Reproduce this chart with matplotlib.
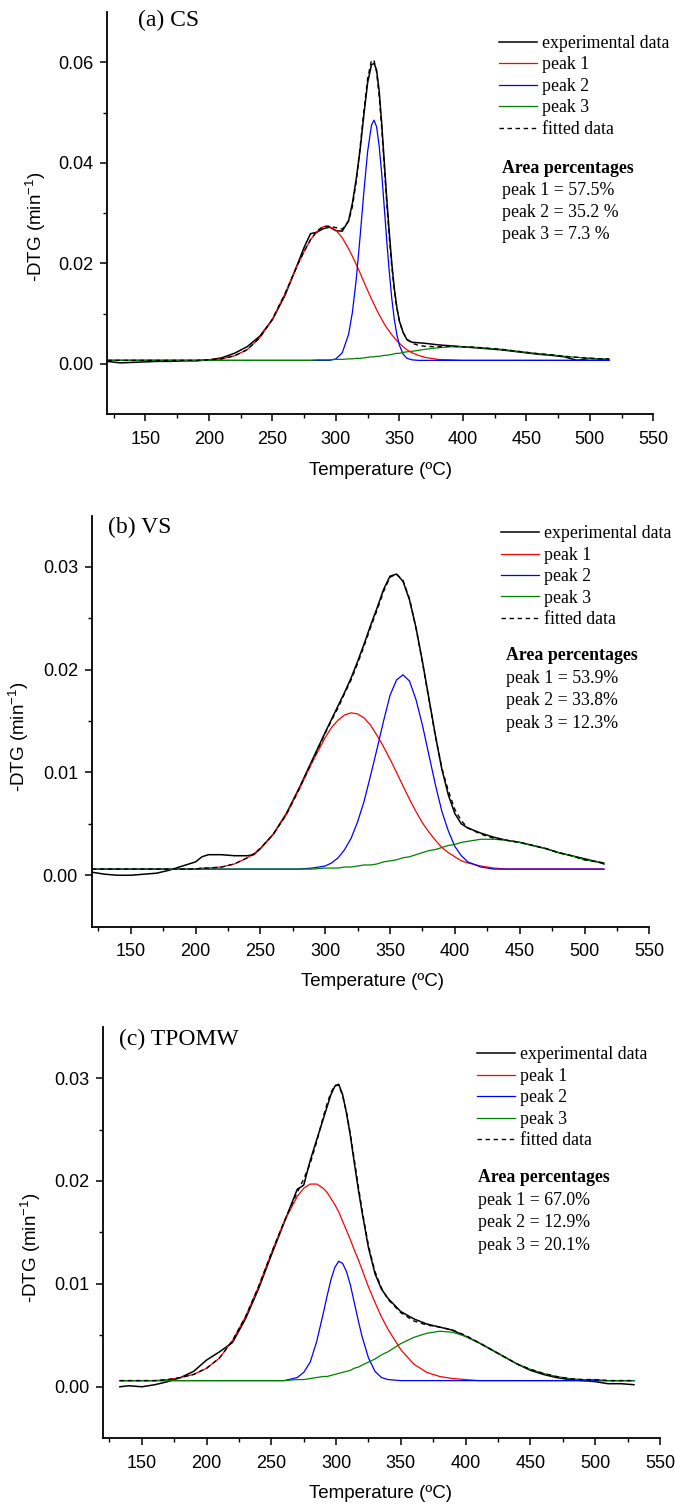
import matplotlib

matplotlib.use("Agg")
import matplotlib.pyplot as plt

# ---- data (temperature in ºC, -DTG in 1/min) ----

T_CS = [120, 130, 140, 150, 160, 170, 180, 190, 200, 210, 220, 230, 240, 250, 260, 270,
        275, 280, 285, 290, 295, 300, 305, 310, 313, 316, 319, 322, 325, 328,
        330, 332, 334, 336, 338, 340, 342, 344, 346, 348, 350, 353, 356, 360, 365, 370,
        380, 390, 400, 410, 420, 430, 440, 450, 460, 470, 480, 490, 500, 510, 515]
EXP_CS = [0.0005, 0.0002, 0.0003, 0.0004, 0.0005, 0.0005, 0.0006, 0.0006, 0.0008, 0.0012, 0.0021, 0.0034, 0.0055, 0.0088, 0.0137, 0.0200,
          0.0232, 0.0259, 0.0262, 0.0269, 0.0272, 0.0265, 0.0264, 0.0285, 0.0320, 0.0368, 0.0425, 0.0495, 0.0560, 0.0595,
          0.0598, 0.0585, 0.0545, 0.0480, 0.0405, 0.0330, 0.0262, 0.0200, 0.0150, 0.0112, 0.0085, 0.0062, 0.0048, 0.0043, 0.0042, 0.0041,
          0.0038, 0.0036, 0.0034, 0.0032, 0.0030, 0.0028, 0.0025, 0.0022, 0.0019, 0.0017, 0.0014, 0.0007, 0.0011, 0.0009, 0.0008]
PEAK1_CS = [0.0007, 0.0007, 0.0007, 0.0007, 0.0007, 0.0007, 0.0007, 0.0007, 0.0008, 0.0010, 0.0016, 0.0028, 0.0052, 0.0089, 0.0140, 0.0198,
            0.0224, 0.0247, 0.0263, 0.0273, 0.0273, 0.0266, 0.0251, 0.0229, 0.0214, 0.0198, 0.0181, 0.0163, 0.0146, 0.0129,
            0.0119, 0.0108, 0.0098, 0.0089, 0.0080, 0.0072, 0.0065, 0.0058, 0.0052, 0.0046, 0.0041, 0.0034, 0.0028, 0.0022, 0.0017, 0.0013,
            0.0009, 0.0008, 0.0007, 0.0007, 0.0007, 0.0007, 0.0007, 0.0007, 0.0007, 0.0007, 0.0007, 0.0007, 0.0007, 0.0007, 0.0007]
PEAK2_CS = [0.0007, 0.0007, 0.0007, 0.0007, 0.0007, 0.0007, 0.0007, 0.0007, 0.0007, 0.0007, 0.0007, 0.0007, 0.0007, 0.0007, 0.0007, 0.0007,
            0.0007, 0.0007, 0.0007, 0.0007, 0.0007, 0.0010, 0.0022, 0.0059, 0.0103, 0.0168, 0.0252, 0.0342, 0.0423, 0.0475,
            0.0485, 0.0472, 0.0435, 0.0380, 0.0314, 0.0246, 0.0184, 0.0130, 0.0088, 0.0058, 0.0037, 0.0019, 0.0011, 0.0008, 0.0007, 0.0007,
            0.0007, 0.0007, 0.0007, 0.0007, 0.0007, 0.0007, 0.0007, 0.0007, 0.0007, 0.0007, 0.0007, 0.0007, 0.0007, 0.0007, 0.0007]
PEAK3_CS = [0.0007, 0.0007, 0.0007, 0.0007, 0.0007, 0.0007, 0.0007, 0.0007, 0.0007, 0.0007, 0.0007, 0.0007, 0.0007, 0.0007, 0.0007, 0.0007,
            0.0007, 0.0007, 0.0008, 0.0008, 0.0008, 0.0009, 0.0009, 0.0010, 0.0010, 0.0011, 0.0011, 0.0012, 0.0013, 0.0014,
            0.0014, 0.0015, 0.0015, 0.0016, 0.0017, 0.0017, 0.0018, 0.0019, 0.0020, 0.0021, 0.0021, 0.0023, 0.0024, 0.0025, 0.0027, 0.0029,
            0.0032, 0.0034, 0.0034, 0.0033, 0.0031, 0.0029, 0.0026, 0.0023, 0.0020, 0.0018, 0.0015, 0.0013, 0.0011, 0.0010, 0.0010]
FIT_CS = [0.0007, 0.0007, 0.0007, 0.0007, 0.0007, 0.0007, 0.0007, 0.0007, 0.0008, 0.0010, 0.0016, 0.0028, 0.0052, 0.0089, 0.0140, 0.0198,
          0.0224, 0.0247, 0.0264, 0.0274, 0.0274, 0.0271, 0.0268, 0.0284, 0.0313, 0.0363, 0.0430, 0.0503, 0.0568, 0.0604,
          0.0604, 0.0581, 0.0534, 0.0471, 0.0397, 0.0321, 0.0253, 0.0193, 0.0146, 0.0111, 0.0085, 0.0062, 0.0049, 0.0041, 0.0037, 0.0035,
          0.0034, 0.0035, 0.0034, 0.0033, 0.0031, 0.0029, 0.0026, 0.0023, 0.0020, 0.0018, 0.0015, 0.0013, 0.0011, 0.0010, 0.0010]
AREA_CS = ["57.5%", "35.2 %", "7.3 %"]

T_VS = [120, 130, 140, 150, 160, 170, 180, 190, 200, 205, 210, 220, 230, 240, 245, 250,
        260, 270, 280, 290, 300, 305, 310, 315, 320, 325, 330, 335, 340, 345, 350, 355,
        360, 365, 370, 375, 380, 385, 390, 395, 400, 405, 410, 420, 430, 440, 450, 460,
        470, 480, 490, 500, 510, 515]
EXP_VS = [0.0003, 0.0001, 0.0000, 0.0000, 0.0001, 0.0002, 0.0005, 0.0009, 0.0013, 0.0018, 0.0020, 0.0020, 0.0019, 0.0019, 0.0020, 0.0026,
          0.0040, 0.0060, 0.0085, 0.0112, 0.0139, 0.0152, 0.0165, 0.0178, 0.0192, 0.0208, 0.0225, 0.0243, 0.0260, 0.0278, 0.0291, 0.0293,
          0.0286, 0.0268, 0.0241, 0.0208, 0.0172, 0.0136, 0.0103, 0.0078, 0.0060, 0.0050, 0.0046, 0.0041, 0.0037, 0.0034, 0.0032, 0.0029,
          0.0026, 0.0022, 0.0019, 0.0016, 0.0013, 0.0011]
PEAK1_VS = [0.0006, 0.0006, 0.0006, 0.0006, 0.0006, 0.0006, 0.0006, 0.0006, 0.0006, 0.0007, 0.0007, 0.0008, 0.0011, 0.0017, 0.0021, 0.0026,
            0.0040, 0.0059, 0.0084, 0.0110, 0.0134, 0.0144, 0.0151, 0.0156, 0.0158, 0.0157, 0.0153, 0.0146, 0.0136, 0.0125, 0.0113, 0.0100,
            0.0087, 0.0074, 0.0062, 0.0051, 0.0042, 0.0034, 0.0027, 0.0022, 0.0018, 0.0014, 0.0012, 0.0009, 0.0007, 0.0006, 0.0006, 0.0006,
            0.0006, 0.0006, 0.0006, 0.0006, 0.0006, 0.0006]
PEAK2_VS = [0.0006, 0.0006, 0.0006, 0.0006, 0.0006, 0.0006, 0.0006, 0.0006, 0.0006, 0.0006, 0.0006, 0.0006, 0.0006, 0.0006, 0.0006, 0.0006,
            0.0006, 0.0006, 0.0006, 0.0007, 0.0009, 0.0012, 0.0017, 0.0025, 0.0036, 0.0052, 0.0072, 0.0097, 0.0123, 0.0150, 0.0175, 0.0190,
            0.0195, 0.0189, 0.0171, 0.0146, 0.0117, 0.0088, 0.0062, 0.0043, 0.0028, 0.0019, 0.0013, 0.0008, 0.0006, 0.0006, 0.0006, 0.0006,
            0.0006, 0.0006, 0.0006, 0.0006, 0.0006, 0.0006]
PEAK3_VS = [0.0006, 0.0006, 0.0006, 0.0006, 0.0006, 0.0006, 0.0006, 0.0006, 0.0006, 0.0006, 0.0006, 0.0006, 0.0006, 0.0006, 0.0006, 0.0006,
            0.0006, 0.0006, 0.0006, 0.0006, 0.0007, 0.0007, 0.0007, 0.0008, 0.0008, 0.0009, 0.0010, 0.0010, 0.0011, 0.0013, 0.0014, 0.0015,
            0.0017, 0.0018, 0.0020, 0.0022, 0.0024, 0.0025, 0.0027, 0.0029, 0.0030, 0.0032, 0.0033, 0.0035, 0.0035, 0.0034, 0.0032, 0.0029,
            0.0026, 0.0022, 0.0019, 0.0015, 0.0013, 0.0012]
FIT_VS = [0.0006, 0.0006, 0.0006, 0.0006, 0.0006, 0.0006, 0.0006, 0.0006, 0.0006, 0.0007, 0.0007, 0.0008, 0.0011, 0.0017, 0.0021, 0.0026,
          0.0040, 0.0059, 0.0084, 0.0111, 0.0138, 0.0151, 0.0163, 0.0177, 0.0190, 0.0206, 0.0223, 0.0241, 0.0258, 0.0276, 0.0290, 0.0293,
          0.0287, 0.0269, 0.0241, 0.0207, 0.0171, 0.0135, 0.0104, 0.0082, 0.0064, 0.0053, 0.0046, 0.0040, 0.0036, 0.0034, 0.0032, 0.0029,
          0.0026, 0.0022, 0.0019, 0.0015, 0.0013, 0.0012]
AREA_VS = ["53.9%", "33.8%", "12.3%"]

T_TPOMW = [133, 140, 150, 160, 170, 180, 190, 200, 210, 220, 230, 240, 250, 260, 270,
           275, 280, 285, 290, 293, 296, 299, 302, 305, 308, 311, 314, 317, 320,
           325, 330, 335, 340, 350, 360, 370, 380, 390, 400, 410, 420, 430, 440,
           450, 460, 470, 480, 490, 500, 510, 520, 530]
EXP_TPOMW = [0.0000, 0.0001, 0.0000, 0.0002, 0.0005, 0.0009, 0.0015, 0.0026, 0.0034, 0.0043, 0.0066, 0.0095, 0.0128, 0.0160, 0.0192,
             0.0196, 0.0220, 0.0240, 0.0260, 0.0272, 0.0284, 0.0292, 0.0294, 0.0284, 0.0266, 0.0244, 0.0218, 0.0193, 0.0170,
             0.0135, 0.0110, 0.0095, 0.0086, 0.0073, 0.0066, 0.0061, 0.0058, 0.0055, 0.0049, 0.0043, 0.0036, 0.0029, 0.0022,
             0.0016, 0.0012, 0.0009, 0.0007, 0.0006, 0.0005, 0.0003, 0.0003, 0.0002]
PEAK1_TPOMW = [0.0006, 0.0006, 0.0006, 0.0006, 0.0007, 0.0009, 0.0012, 0.0018, 0.0028, 0.0045, 0.0068, 0.0097, 0.0130, 0.0161, 0.0185,
               0.0193, 0.0197, 0.0197, 0.0193, 0.0189, 0.0183, 0.0177, 0.0170, 0.0161, 0.0152, 0.0143, 0.0133, 0.0124, 0.0114,
               0.0097, 0.0082, 0.0068, 0.0056, 0.0036, 0.0022, 0.0014, 0.0010, 0.0008, 0.0007, 0.0006, 0.0006, 0.0006, 0.0006,
               0.0006, 0.0006, 0.0006, 0.0006, 0.0006, 0.0006, 0.0006, 0.0006, 0.0006]
PEAK2_TPOMW = [0.0006, 0.0006, 0.0006, 0.0006, 0.0006, 0.0006, 0.0006, 0.0006, 0.0006, 0.0006, 0.0006, 0.0006, 0.0006, 0.0006, 0.0009,
               0.0014, 0.0024, 0.0044, 0.0071, 0.0088, 0.0104, 0.0116, 0.0122, 0.0120, 0.0112, 0.0099, 0.0082, 0.0065, 0.0049,
               0.0028, 0.0015, 0.0009, 0.0007, 0.0006, 0.0006, 0.0006, 0.0006, 0.0006, 0.0006, 0.0006, 0.0006, 0.0006, 0.0006,
               0.0006, 0.0006, 0.0006, 0.0006, 0.0006, 0.0006, 0.0006, 0.0006, 0.0006]
PEAK3_TPOMW = [0.0006, 0.0006, 0.0006, 0.0006, 0.0006, 0.0006, 0.0006, 0.0006, 0.0006, 0.0006, 0.0006, 0.0006, 0.0006, 0.0006, 0.0007,
               0.0007, 0.0008, 0.0009, 0.0010, 0.0010, 0.0011, 0.0012, 0.0013, 0.0014, 0.0015, 0.0016, 0.0018, 0.0019, 0.0021,
               0.0024, 0.0027, 0.0031, 0.0034, 0.0042, 0.0048, 0.0052, 0.0054, 0.0053, 0.0049, 0.0043, 0.0036, 0.0029, 0.0022,
               0.0017, 0.0013, 0.0010, 0.0008, 0.0007, 0.0007, 0.0006, 0.0006, 0.0006]
FIT_TPOMW = [0.0006, 0.0006, 0.0006, 0.0006, 0.0007, 0.0009, 0.0012, 0.0018, 0.0028, 0.0045, 0.0068, 0.0097, 0.0130, 0.0161, 0.0189,
             0.0202, 0.0217, 0.0238, 0.0262, 0.0275, 0.0286, 0.0293, 0.0293, 0.0283, 0.0267, 0.0246, 0.0221, 0.0196, 0.0172,
             0.0137, 0.0112, 0.0096, 0.0085, 0.0072, 0.0064, 0.0060, 0.0058, 0.0055, 0.0050, 0.0043, 0.0036, 0.0029, 0.0022,
             0.0017, 0.0013, 0.0010, 0.0008, 0.0007, 0.0007, 0.0006, 0.0006, 0.0006]
AREA_TPOMW = ["67.0%", "12.9%", "20.1%"]

SERIES_LABELS = ["experimental data", "peak 1", "peak 2", "peak 3", "fitted data"]

# ---- layout / style ----

SANS = ["Liberation Sans", "DejaVu Sans"]
SERIF = ["Liberation Serif", "DejaVu Serif"]
PEAK_COLORS = ["#FF0000", "#0000FF", "#008000"]
TEXT_SIZE = 12.8

PANELS = [
    {
        "tag": "(a) CS",
        "data": (T_CS, EXP_CS, PEAK1_CS, PEAK2_CS, PEAK3_CS, FIT_CS),
        "areas": AREA_CS,
        "rect": [0.159, 0.725, 0.809, 0.267],
        "ylim": (-0.01, 0.07),
        "yticks": [0.0, 0.02, 0.04, 0.06],
        "yminor": [0.01, 0.03, 0.05],
        "legend_xy": (0.717, 0.943),
        "area_x": 0.723,
        "area_y": [0.611, 0.556, 0.501, 0.447],
        "tag_xy": (0.057, 0.98),
        "xlabel_xy": (0.501, -0.118),
        "ylabel_xy": (-0.109, 0.465),
    },
    {
        "tag": "(b) VS",
        "data": (T_VS, EXP_VS, PEAK1_VS, PEAK2_VS, PEAK3_VS, FIT_VS),
        "areas": AREA_VS,
        "rect": [0.136, 0.3847, 0.826, 0.273],
        "ylim": (-0.005, 0.035),
        "yticks": [0.0, 0.01, 0.02, 0.03],
        "yminor": [0.005, 0.015, 0.025],
        "legend_xy": (0.734, 0.976),
        "area_x": 0.742,
        "area_y": [0.660, 0.603, 0.5496, 0.4937],
        "tag_xy": (0.0296, 0.972),
        "xlabel_xy": (0.503, -0.112),
        "ylabel_xy": (-0.1086, 0.4615),
    },
    {
        "tag": "(c) TPOMW",
        "data": (T_TPOMW, EXP_TPOMW, PEAK1_TPOMW, PEAK2_TPOMW, PEAK3_TPOMW, FIT_TPOMW),
        "areas": AREA_TPOMW,
        "rect": [0.1526, 0.045, 0.825, 0.2733],
        "ylim": (-0.005, 0.035),
        "yticks": [0.0, 0.01, 0.02, 0.03],
        "yminor": [0.005, 0.015, 0.025],
        "legend_xy": (0.671, 0.952),
        "area_x": 0.673,
        "area_y": [0.634, 0.5774, 0.5239, 0.4688],
        "tag_xy": (0.0294, 0.968),
        "xlabel_xy": (0.499, -0.114),
        "ylabel_xy": (-0.107, 0.4623),
    },
]


def draw_panel(fig, panel):
    temp, exp, p1, p2, p3, fit = panel["data"]
    ax = fig.add_axes(panel["rect"])

    ax.plot(temp, exp, color="black", linewidth=1.1, label=SERIES_LABELS[0])
    for values, color, label in zip((p1, p2, p3), PEAK_COLORS, SERIES_LABELS[1:4]):
        ax.plot(temp, values, color=color, linewidth=0.9, label=label)
    ax.plot(temp, fit, color="black", linewidth=1.0, dashes=(3.2, 2.6), label=SERIES_LABELS[4])

    ax.set_xlim(120, 550)
    ax.set_ylim(*panel["ylim"])
    ax.set_xticks(range(150, 551, 50))
    ax.set_xticks(range(125, 551, 50), minor=True)
    ax.set_yticks(panel["yticks"])
    ax.set_yticks(panel["yminor"], minor=True)
    ax.set_yticklabels([f"{v:.2f}" for v in panel["yticks"]])

    for side in ("top", "right"):
        ax.spines[side].set_visible(False)
    for side in ("left", "bottom"):
        ax.spines[side].set_linewidth(1.3)
    ax.tick_params(which="major", direction="out", length=5, width=1.1, labelsize=13)
    ax.tick_params(which="minor", direction="out", length=3, width=1.0)
    ax.tick_params(axis="x", which="major", pad=7)
    ax.tick_params(axis="y", which="major", pad=5)

    ax.set_xlabel("Temperature (ºC)", fontsize=13.5)
    ax.set_ylabel("-DTG (min$^{-1}$)", fontsize=13.5)
    ax.xaxis.set_label_coords(*panel["xlabel_xy"])
    ax.yaxis.set_label_coords(*panel["ylabel_xy"])

    ax.legend(
        loc="upper left",
        bbox_to_anchor=panel["legend_xy"],
        frameon=False,
        borderpad=0,
        borderaxespad=0,
        handlelength=2.13,
        handletextpad=0.28,
        labelspacing=0.25,
        prop={"family": SERIF, "size": TEXT_SIZE},
    )

    ax.text(*panel["tag_xy"], panel["tag"], transform=ax.transAxes, family=SERIF,
            fontsize=17, ha="left", va="center")
    ys = panel["area_y"]
    ax.text(panel["area_x"], ys[0], "Area percentages", transform=ax.transAxes,
            family=SERIF, fontsize=TEXT_SIZE, fontweight="bold", ha="left", va="center")
    for i, (value, y) in enumerate(zip(panel["areas"], ys[1:]), start=1):
        ax.text(panel["area_x"], y, f"peak {i} = {value}", transform=ax.transAxes,
                family=SERIF, fontsize=TEXT_SIZE, ha="left", va="center")
    return ax


def main():
    plt.rcParams["font.family"] = SANS
    plt.rcParams["mathtext.fontset"] = "custom"
    plt.rcParams["mathtext.rm"] = "Liberation Sans"
    plt.rcParams["mathtext.default"] = "rm"

    fig = plt.figure(figsize=(6.75, 15.06), dpi=100)
    for panel in PANELS:
        draw_panel(fig, panel)
    fig.savefig("out.png", dpi=100)
    plt.close(fig)


if __name__ == "__main__":
    main()
